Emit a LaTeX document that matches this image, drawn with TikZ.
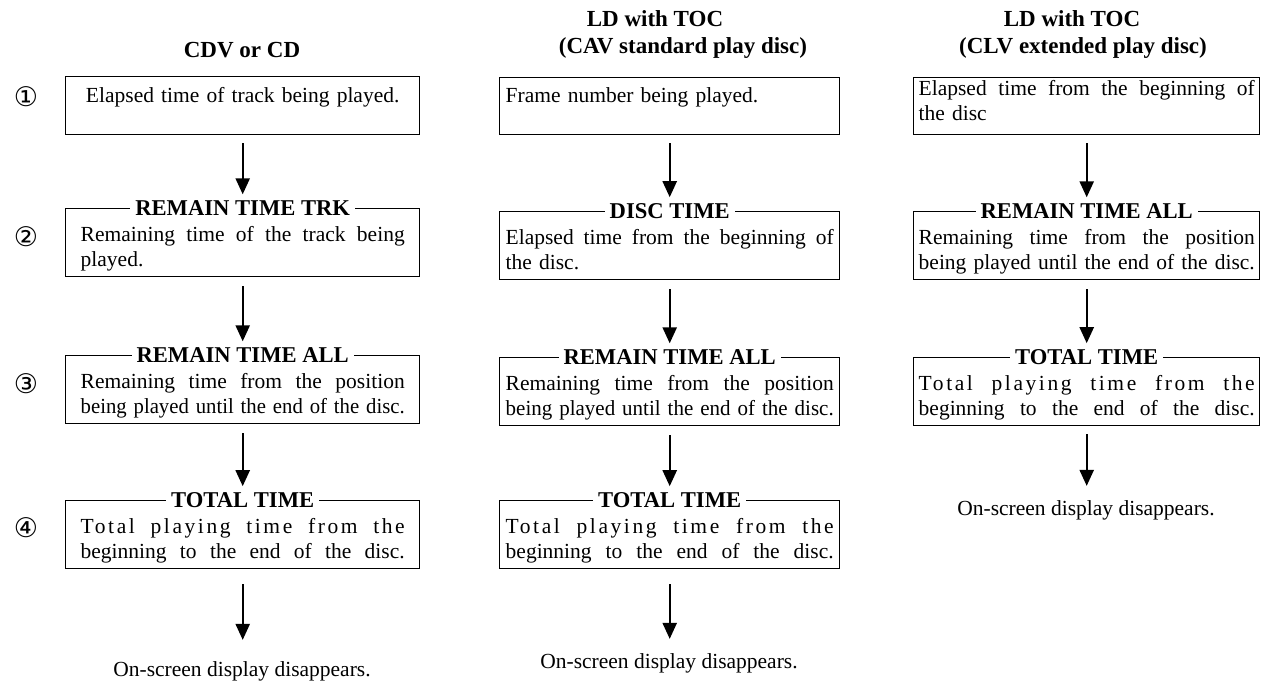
\documentclass[tikz,border=0pt]{standalone}
\usepackage{graphicx}
\usepackage{fontspec}
\setmainfont{Liberation Serif}
\newfontfamily\dejavu{DejaVu Sans}
\usetikzlibrary{arrows.meta}
\newlength\jw
\newcommand\jl[2]{\settowidth\jw{#2}\ifdim\jw>#1\relax\resizebox{#1}{\height}{#2}\else\makebox[#1][s]{\spaceskip=\fontdimen2\font plus 1fil\relax #2}\fi}
\newcommand\jls[3]{\makebox[#1][s]{\addfontfeature{LetterSpace=#2}\spaceskip=\fontdimen2\font plus 1fil\relax #3}}
\begin{document}
\begin{tikzpicture}[x=1pt,y=-1pt,
  bx/.style={draw, line width=1.4pt, anchor=north west, inner ysep=0pt, font=\fontsize{21.5}{24.5}\selectfont, align=left},
  bxa/.style={bx, text width=324pt, inner xsep=15pt},
  bxb/.style={bx, text width=328pt, inner xsep=6pt},
  bxc/.style={bx, text width=336pt, inner xsep=5pt},
  two/.style={text height=33pt, text depth=35pt},
  lbl/.style={fill=white, inner xsep=5pt, inner ysep=6pt, font=\bfseries\fontsize{22.6}{24}\selectfont},
  ttl/.style={font=\bfseries\fontsize{23}{26}\selectfont, anchor=base, inner sep=0pt},
  num/.style={font=\dejavu\fontsize{27}{27}\selectfont, inner sep=0pt},
  disp/.style={font=\fontsize{21.5}{24}\selectfont, anchor=base, inner ysep=3pt},
  arr/.style={line width=2.3pt, -{Triangle[width=14pt,length=16pt]}}
]
\useasboundingbox (0,0) rectangle (1271,681);

% titles
\node[ttl] (t1) at (242,57) {CDV or CD};
\node[ttl] (t2a) at (655,26) {LD with TOC};
\node[ttl] (t2b) at (683,53) {(CAV standard play disc)};
\node[ttl] (t3a) at (1072,26) {LD with TOC};
\node[ttl] (t3b) at (1083,53) {(CLV extended play disc)};

% step numbers
\node[num] (n1) at (26,97) {①};
\node[num] (n2) at (26,237) {②};
\node[num] (n3) at (26,384) {③};
\node[num] (n4) at (26,528) {④};

% column 1
\node[bxa, align=center, text height=26pt, text depth=32pt] (a1) at (65,76) {Elapsed time of track being played.};
\node[bxa, two] (a2) at (65,208) {\jl{324pt}{Remaining time of the track being}\\played.};
\node[lbl] (la2) at (a2.north) {REMAIN TIME TRK};
\node[bxa, two] (a3) at (65,355) {\jl{324pt}{Remaining time from the position}\\\jl{324pt}{being played until the end of the disc.}};
\node[lbl] (la3) at (a3.north) {REMAIN TIME ALL};
\node[bxa, two] (a4) at (65,500) {\jls{324pt}{12}{Total playing time from the}\\\jl{324pt}{beginning to the end of the disc.}};
\node[lbl] (la4) at (a4.north) {TOTAL TIME};
\node[disp] (d1) at (242,676) {On-screen display disappears.};

\draw[arr, shorten <=8pt] (a1.south) -- (la2.north);
\draw[arr, shorten <=9pt] (a2.south) -- (la3.north);
\draw[arr, shorten <=9pt] (a3.south) -- (la4.north);
\draw[arr, shorten <=15pt, shorten >=18pt] (a4.south) -- (a4.south |- d1.north);

% column 2
\node[bxb, text height=25pt, text depth=32pt] (b1) at (499,77) {Frame number being played.};
\node[bxb, two] (b2) at (499,211) {\jl{328pt}{Elapsed time from the beginning of}\\the disc.};
\node[lbl] (lb2) at (b2.north) {DISC TIME};
\node[bxb, two] (b3) at (499,357) {\jl{328pt}{Remaining time from the position}\\\jl{328pt}{being played until the end of the disc.}};
\node[lbl] (lb3) at (b3.north) {REMAIN TIME ALL};
\node[bxb, two] (b4) at (499,500) {\jls{328pt}{12}{Total playing time from the}\\\jl{328pt}{beginning to the end of the disc.}};
\node[lbl] (lb4) at (b4.north) {TOTAL TIME};
\node[disp] (d2) at (669,668) {On-screen display disappears.};

\draw[arr, shorten <=8pt] (b1.south) -- (lb2.north);
\draw[arr, shorten <=9pt] (b2.south) -- (lb3.north);
\draw[arr, shorten <=9pt] (b3.south) -- (lb4.north);
\draw[arr, shorten <=15pt, shorten >=11pt] (b4.south) -- (b4.south |- d2.north);

% column 3
\node[bxc, text height=18pt, text depth=39pt] (c1) at (913,77) {\jl{336pt}{Elapsed time from the beginning of}\\the disc};
\node[bxc, two] (c2) at (913,211) {\jl{336pt}{Remaining time from the position}\\\jl{336pt}{being played until the end of the disc.}};
\node[lbl] (lc2) at (c2.north) {REMAIN TIME ALL};
\node[bxc, two] (c3) at (913,357) {\jls{336pt}{12}{Total playing time from the}\\\jl{336pt}{beginning to the end of the disc.}};
\node[lbl] (lc3) at (c3.north) {TOTAL TIME};
\node[disp] (d3) at (1086,515) {On-screen display disappears.};

\draw[arr, shorten <=8pt] (c1.south) -- (lc2.north);
\draw[arr, shorten <=9pt] (c2.south) -- (lc3.north);
\draw[arr, shorten <=8pt, shorten >=11pt] (c3.south) -- (c3.south |- d3.north);
\end{tikzpicture}
\end{document}
